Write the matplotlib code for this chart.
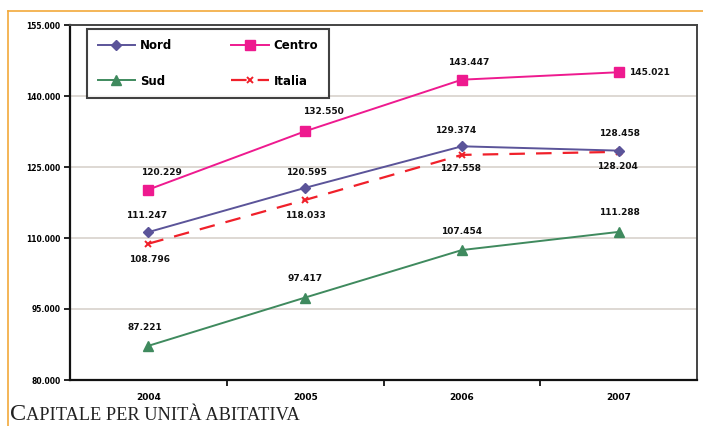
import matplotlib
matplotlib.use("Agg")
from matplotlib import pyplot as plt
from matplotlib.lines import Line2D
from matplotlib.ticker import FuncFormatter, FixedLocator

# dati (euro per unità abitativa)
anni = ["2004", "2005", "2006", "2007"]
nord = [111247, 120595, 129374, 128458]
centro = [120229, 132550, 143447, 145021]
sud = [87221, 97417, 107454, 111288]
italia = [108796, 118033, 127558, 128204]
y_ticks = [80000, 95000, 110000, 125000, 140000, 155000]

def fmt(v):
    return "{:,}".format(int(v)).replace(",", ".")

fig = plt.figure(figsize=(7.03, 4.26), dpi=100, facecolor="white")
ax = fig.add_axes([70 / 703, 46 / 426, 627 / 703, 355 / 426])

x = range(len(anni))
c_nord, c_centro, c_sud, c_italia = "#5b5499", "#ee1a8f", "#3f8a5e", "#f0202a"

ax.plot(x, nord, color=c_nord, lw=1.4, marker="D", ms=5.5, label="Nord", zorder=4)
ax.plot(x, sud, color=c_sud, lw=1.4, marker="^", ms=7.5, label="Sud", zorder=4)
ax.plot(x, centro, color=c_centro, lw=1.4, marker="s", ms=7.5, label="Centro", zorder=4)
ax.plot(x, italia, color=c_italia, lw=1.6, ls=(0, (7, 5)), marker="x", ms=5,
        mew=1.4, label="Italia", zorder=3)

# etichette dei valori (offset in pixel)
off = {
    "centro": [(13, 17), (18, 20), (7, 17), (10, 0)],
    "nord": [(-2, 17), (1, 15), (-6, 16), (1, 17)],
    "italia": [(1, -16), (0, -16), (-1, -14), (-1, -15)],
    "sud": [(-4, 18), (0, 19), (0, 19), (1, 19)],
}
serie = {"centro": centro, "nord": nord, "italia": italia, "sud": sud}
for nome, vals in serie.items():
    for i, v in enumerate(vals):
        dx, dy = off[nome][i]
        ha = "left" if (nome == "centro" and i == 3) else "center"
        ax.annotate(fmt(v), (i, v), xytext=(dx, dy), textcoords="offset pixels",
                    ha=ha, va="center", fontsize=6.5, fontweight="bold",
                    family="DejaVu Sans", color="#111111", zorder=5)

ax.set_xlim(-0.5, 3.5)
ax.set_ylim(80000, 155000)
ax.set_yticks(y_ticks)
ax.yaxis.set_major_formatter(FuncFormatter(lambda v, p: fmt(v)))
ax.set_xticks(list(x))
ax.set_xticklabels(anni)
ax.xaxis.set_minor_locator(FixedLocator([0.5, 1.5, 2.5]))
ax.tick_params(axis="x", which="major", length=0, pad=9, labelsize=6.5)
ax.tick_params(axis="x", which="minor", length=4, width=1.2, direction="out")
ax.tick_params(axis="y", length=4, width=1.2, direction="out", pad=3, labelsize=5.5)
for lab in ax.get_xticklabels() + ax.get_yticklabels():
    lab.set_fontweight("bold")

ax.grid(axis="y", color="#d8d2cc", lw=1.2)
ax.set_axisbelow(True)
for s in ["left", "bottom"]:
    ax.spines[s].set_linewidth(1.6)
    ax.spines[s].set_color("#111111")
for s in ["top", "right"]:
    ax.spines[s].set_linewidth(1.4)
    ax.spines[s].set_color("#444444")

leg = ax.legend(loc="upper left", bbox_to_anchor=(0.027, 0.99), ncol=2,
                borderaxespad=0, frameon=True, fancybox=False, edgecolor="#111111",
                prop={"weight": "bold", "size": 8.5}, handlelength=3.2,
                labelspacing=1.9, columnspacing=5.0, borderpad=0.9, handletextpad=0.4)
leg.get_frame().set_linewidth(1.5)

# cornice arancione
fig.add_artist(Line2D([8 / 703, 1], [1 - 11 / 426, 1 - 11 / 426], color="#f2a93b", lw=1.2,
                      transform=fig.transFigure))
fig.add_artist(Line2D([8 / 703, 8 / 703], [0, 1 - 11 / 426], color="#f2a93b", lw=1.2,
                      transform=fig.transFigure))

# didascalia in maiuscoletto
r = fig.canvas.get_renderer()
t1 = fig.text(10 / 703, 6 / 426, "C", fontsize=17.5, family="Liberation Serif", color="#222222")
bb = t1.get_window_extent(renderer=r)
fig.text(bb.x1 / 703, 6 / 426, "APITALE PER UNITÀ ABITATIVA", fontsize=13.2,
         family="Liberation Serif", color="#222222")

plt.savefig("out.png", dpi=100)
